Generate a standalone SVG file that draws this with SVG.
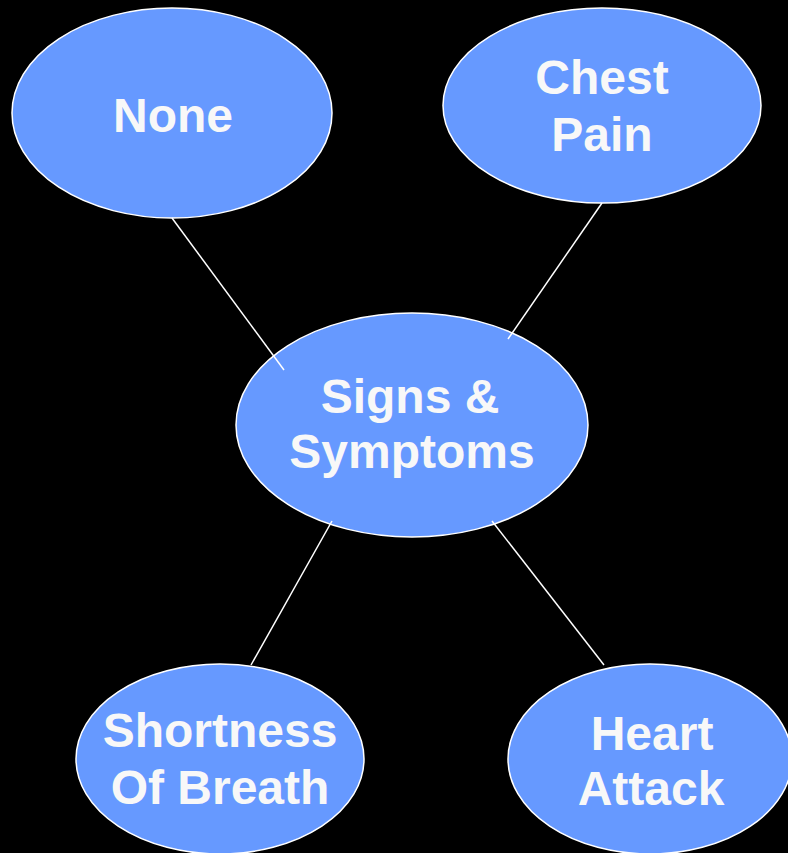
<svg xmlns="http://www.w3.org/2000/svg" width="788" height="853" viewBox="0 0 788 853">
<style>
.n ellipse{fill:#6699FF;stroke:#FFFFFF;stroke-width:1.5}
.n text{fill:#F8F8F8;font-family:"Liberation Sans",Arial,sans-serif;font-weight:bold;font-size:48px;text-anchor:middle}
.c line{stroke:#FFFFFF;stroke-width:1.5}
</style>
<rect width="788" height="853" fill="#000000"/>
<g id="none" class="n">
<ellipse cx="172" cy="113" rx="160" ry="105"/>
<text x="173" y="132">None</text>
</g>
<g id="chest-pain" class="n">
<ellipse cx="602" cy="105.5" rx="159" ry="97.5"/>
<text x="602" y="94">Chest</text>
<text x="602" y="151">Pain</text>
</g>
<g id="signs-symptoms" class="n">
<ellipse cx="412" cy="425" rx="176" ry="112"/>
<text x="410" y="413">Signs &amp;</text>
<text x="412" y="468">Symptoms</text>
</g>
<g id="shortness-of-breath" class="n">
<ellipse cx="220" cy="759" rx="144" ry="95"/>
<text x="220" y="747">Shortness</text>
<text x="220" y="804">Of Breath</text>
</g>
<g id="heart-attack" class="n">
<ellipse cx="650" cy="759" rx="142" ry="95"/>
<text x="652" y="750">Heart</text>
<text x="651" y="805">Attack</text>
</g>
<g id="connectors" class="c">
<line x1="172" y1="218" x2="284" y2="370"/>
<line x1="602" y1="203" x2="508" y2="339"/>
<line x1="332" y1="521" x2="251" y2="665"/>
<line x1="492" y1="521" x2="604" y2="665"/>
</g>
</svg>
